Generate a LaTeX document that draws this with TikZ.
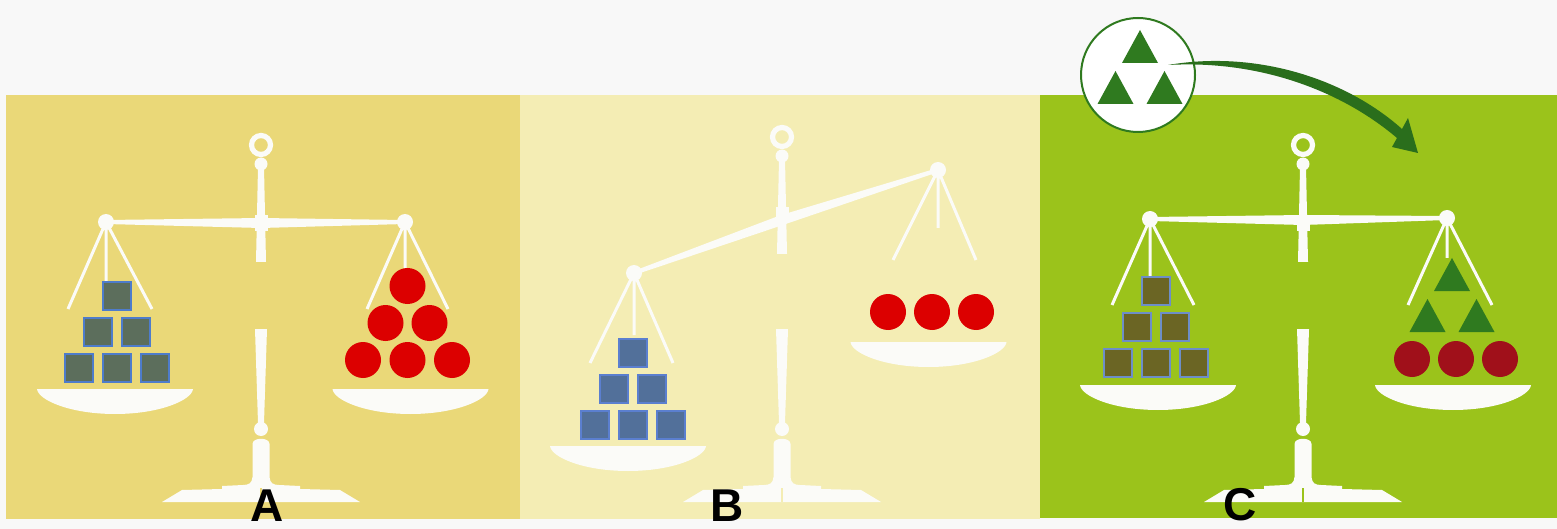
\documentclass[tikz,border=0pt]{standalone}
\usepackage{fontspec}
\newfontfamily\labelfont{Liberation Sans}
\usetikzlibrary{calc}

\definecolor{paper}{HTML}{F8F8F8}
\definecolor{panelA}{HTML}{EAD878}
\definecolor{panelB}{HTML}{F4EDB4}
\definecolor{panelC}{HTML}{9BC31B}
\definecolor{metalwhite}{HTML}{FBFBF8}
\definecolor{cubeA}{HTML}{5C6E5C}
\definecolor{cubeB}{HTML}{52709A}
\definecolor{cubeC}{HTML}{6B6524}
\definecolor{edgeA}{HTML}{4E7CCB}
\definecolor{edgeB}{HTML}{5B7FCF}
\definecolor{edgeC}{HTML}{6D8EC8}
\definecolor{ballred}{HTML}{DC0000}
\definecolor{darkred}{HTML}{A0101A}
\definecolor{leafgreen}{HTML}{2F7A1F}

% stand of a balance: #1 = x of the axis, #2 = y of the ring, #3 = ground colour
\newcommand{\standframe}[3]{%
\begin{scope}[shift={(#1,#2)}]
\draw[draw=metalwhite, line width=2.6pt] (0,0) circle (9.5);
\fill[metal] (0,19) circle (6.5);
\fill[metal] (-3,22) -- (3,22) -- (5,117) -- (-5,117) -- cycle;
\fill[metal] (-6.5,70) rectangle (6.5,86);
\end{scope}
\begin{scope}[shift={(#1,0)}]
\fill[metal] (-6,329) -- (6,329) -- (3,423) -- (-3,423) -- cycle;
\fill[metal] (0,429) circle (7);
\fill[metal] (-8.5,477) -- (-8.5,444) .. controls (-8.5,437) and (8.5,437) .. (8.5,444) -- (8.5,477)
  .. controls (9,483) and (12,485) .. (18,485) -- (39,486) -- (39,489) -- (79,490) -- (99,502)
  -- (-99,502) -- (-79,490) -- (-39,489) -- (-39,486) -- (-18,485)
  .. controls (-12,485) and (-9,483) .. (-8.5,477) -- cycle;
\draw[#3, line width=1pt] (0,488) -- (0,502);
\end{scope}}

% tapered beam from #1 over the pivot #2 to #3, with the end knobs
\newcommand{\beam}[3]{%
\fill[metal] ($(#1)!1pt!90:(#3)$) -- ($(#2)!2.5pt!90:(#3)$) -- ($(#3)!1pt!-90:(#1)$)
  -- ($(#3)!1pt!90:(#1)$) -- ($(#2)!2.5pt!-90:(#3)$) -- ($(#1)!1pt!-90:(#3)$) -- cycle;
\fill[metal] (#1) circle (8) (#3) circle (8);}

% pan with its rim centred at (#1,#2)
\newcommand{\pan}[2]{%
\begin{scope}[shift={(#1,#2)}]
\fill[metal] (-78,0) -- (78,0) .. controls (77,11) and (45,25) .. (0,25)
  .. controls (-45,25) and (-77,11) .. (-78,0) -- cycle;
\end{scope}}

% pyramid of six cubes: #1 name, #2 x of the middle, #3 y of the lowest row
\newcommand{\cubestack}[5]{%
\foreach \n/\dx/\dy in {1/-38/0,2/0/0,3/38/0,4/-19/-36,5/19/-36,6/0/-72}
  \node[cube, fill=#4, draw=#5] (#1\n) at ({#2+(\dx)},{#3+(\dy)}) {};}

% green triangle standing on (#1,#2)
\newcommand{\trig}[2]{%
\fill[leafgreen] ({#1-18},#2) -- ({#1+18},#2) -- (#1,{#2-33}) -- cycle;}

\begin{document}
\begin{tikzpicture}[x=0.5pt,y=-0.5pt]
\tikzset{
% white metal of the balances
metal/.style={fill=metalwhite},
cord/.style={draw=metalwhite, line width=1.5pt},
% loads on the pans
cube/.style={rectangle, minimum size=14pt, inner sep=0, line width=1pt},
weight/.style={circle, minimum size=18pt, inner sep=0, fill=#1},
tag/.style={anchor=base, inner sep=0, font=\labelfont\bfseries\fontsize{23}{23}\selectfont}
}
\useasboundingbox (0,0) rectangle (1557,529);
\clip (0,0) rectangle (1557,529);

% grounds
\fill[paper] (0,0) rectangle (1557,529);
\fill[panelA] (6,95) rectangle (520,519);
\fill[panelB] (520,95) rectangle (1040,519);
\fill[panelC] (1040,95) rectangle (1557,518);

% A: balance at rest
\coordinate (aL) at (106,222);
\coordinate (aP) at (261,223);
\coordinate (aR) at (405,222);
\standframe{261}{145}{panelA}
\beam{aL}{aP}{aR}
\draw[cord] (aL) -- ++(-38,87) (aL) -- ++(46,87) (aL) -- ++(0,60);
\draw[cord] (aR) -- ++(-38,87) (aR) -- ++(43,87) (aR) -- ++(0,46);
\pan{115}{389}
\pan{410.5}{389}
\cubestack{ac}{116.5}{368}{cubeA}{edgeA}
\foreach \n/\x/\y in {1/363/360,2/407.5/360,3/452/360,4/385.5/323,5/429.5/323,6/407.5/286}
  \node[weight=ballred] (ab\n) at (\x,\y) {};

% B: cubes outweigh
\coordinate (bL) at (634,273);
\coordinate (bP) at (782,220);
\coordinate (bR) at (938,170);
\standframe{782}{137}{panelB}
\beam{bL}{bP}{bR}
\draw[cord] (bL) -- ++(-44,90) (bL) -- ++(39,90) (bL) -- ++(0,62);
\draw[cord] (bR) -- ++(-45,90) (bR) -- ++(38,90) (bR) -- ++(0,58);
\pan{628}{446}
\pan{928.5}{342}
\cubestack{bc}{633}{425}{cubeB}{edgeB}
\foreach \n/\x in {1/888,2/932,3/976}
  \node[weight=ballred] (bb\n) at (\x,312) {};

% C: balanced again with the added triangles
\coordinate (cL) at (1150,219);
\coordinate (cP) at (1303,220);
\coordinate (cR) at (1447,218);
\standframe{1303}{145}{panelC}
\beam{cL}{cP}{cR}
\draw[cord] (cL) -- ++(-38,86) (cL) -- ++(44,86) (cL) -- ++(0,58);
\draw[cord] (cR) -- ++(-39,87) (cR) -- ++(45,87) (cR) -- ++(0,40);
\pan{1158}{385}
\pan{1453}{385}
\cubestack{cc}{1156}{362.5}{cubeC}{edgeC}
\trig{1452}{291}
\trig{1427.5}{332}
\trig{1476.5}{332}
\foreach \n/\x in {1/1412,2/1456,3/1500}
  \node[weight=darkred] (cb\n) at (\x,359) {};

% inset with the three triangles and the curved arrow
\node[circle, draw=leafgreen, line width=1pt, fill=white, minimum size=57pt, inner sep=0] (inset) at (1138,75) {};
\trig{1140}{63}
\trig{1115.5}{104}
\trig{1164.5}{104}
\coordinate (tail) at (1168,65);
\coordinate (tip) at (1418,153);
\fill[leafgreen!90!black] (tail) .. controls (1255,50) and (1345,78) .. (1402,129) -- (1408,118) -- (tip)
  -- (1392,147) -- (1397,138) .. controls (1338,88) and (1255,60) .. (tail) -- cycle;

% panel letters
\node[tag] (labelA) at (267,521) {A};
\node[tag] (labelB) at (727,521) {B};
\node[tag] (labelC) at (1240,520) {C};
\end{tikzpicture}
\end{document}
